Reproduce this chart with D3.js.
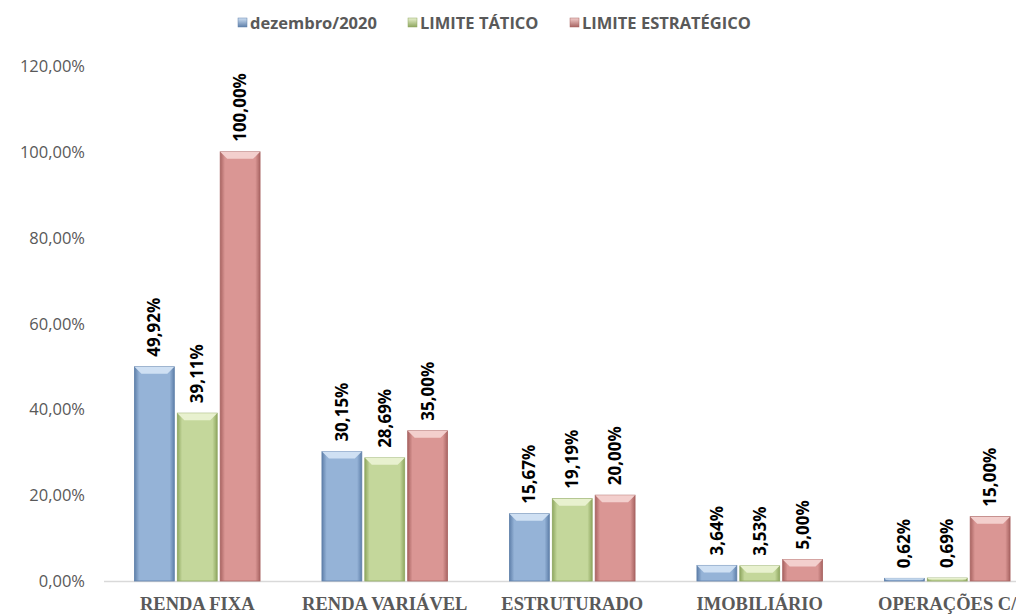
<!doctype html>
<html>
<head>
<meta charset="utf-8"/>
<style>
    html, body { margin: 0; padding: 0; background: #fff; }
    svg { display: block; }
    .tick-label { font-family: 'Open Sans', sans-serif; font-size: 16.5px; fill: #595959; }
    .cat-label { font-family: 'Liberation Serif', serif; font-weight: bold; font-size: 18.5px; fill: #595959; }
    .legend-label { font-family: 'Open Sans', sans-serif; font-weight: bold; font-size: 16.5px; fill: #595959; }
    .value-label { font-family: 'Open Sans', sans-serif; font-weight: bold; font-size: 17px; fill: #000; }
</style>
<script src="https://d3js.org/d3.v7.min.js"></script>
</head>
<body>
<svg width="1016" height="614"></svg>
<script>
    // --- data ---
    var categories = ["RENDA FIXA", "RENDA VARIÁVEL", "ESTRUTURADO", "IMOBILIÁRIO", "OPERAÇÕES C/"];
    var seriesNames = ["dezembro/2020", "LIMITE TÁTICO", "LIMITE ESTRATÉGICO"];
    var dezembro = [49.92, 30.15, 15.67, 3.64, 0.62];
    var limiteTatico = [39.11, 28.69, 19.19, 3.53, 0.69];
    var limiteEstrategico = [100.00, 35.00, 20.00, 5.00, 15.00];
    var yTicks = [0, 20, 40, 60, 80, 100, 120];

    var seriesValues = [dezembro, limiteTatico, limiteEstrategico];
    var fills = ["#95b3d7", "#c4d79b", "#da9694"];
    var lights = ["#cfe0f3", "#e8f1cf", "#f3cfcd"];
    var darks = ["#5f80aa", "#8fa760", "#a86462"];

    var svg = d3.select("svg");
    var defs = svg.append("defs");

    var x = d3.scaleBand().domain(categories).range([103.5, 1041])
        .paddingInner(0.33).paddingOuter(0.165);
    var xs = d3.scaleBand().domain(d3.range(3)).range([0, x.bandwidth()])
        .paddingInner(0.07).paddingOuter(0);
    var y = d3.scaleLinear().domain([0, 120]).range([581, 66]);

    function fmt(v) { return v.toFixed(2).replace(".", ",") + "%"; }

    // gradients for bar sides
    fills.forEach(function(c, i) {
        var g = defs.append("linearGradient").attr("id", "grad" + i)
            .attr("x1", 0).attr("x2", 1).attr("y1", 0).attr("y2", 0);
        g.append("stop").attr("offset", "0%").attr("stop-color", darks[i]);
        g.append("stop").attr("offset", "12%").attr("stop-color", c);
        g.append("stop").attr("offset", "88%").attr("stop-color", c);
        g.append("stop").attr("offset", "100%").attr("stop-color", darks[i]);
        var lg = defs.append("linearGradient").attr("id", "leg" + i)
            .attr("x1", 0).attr("x2", 0).attr("y1", 0).attr("y2", 1);
        lg.append("stop").attr("offset", "0%").attr("stop-color", lights[i]);
        lg.append("stop").attr("offset", "100%").attr("stop-color", darks[i]);
    });

    // y axis labels
    svg.append("g").selectAll("text").data(yTicks).enter().append("text")
        .attr("class", "tick-label")
        .attr("x", 85)
        .attr("y", function(d) { return y(d) + 6; })
        .attr("text-anchor", "end")
        .text(function(d) { return d.toFixed(2).replace(".", ",") + "%"; });

    // baseline
    svg.append("line").attr("x1", 104).attr("x2", 1016)
        .attr("y1", y(0) + 0.5).attr("y2", y(0) + 0.5)
        .attr("stroke", "#d9d9d9").attr("stroke-width", 1.5);

    // bars
    var groups = svg.append("g").selectAll("g").data(categories).enter().append("g")
        .attr("transform", function(d) { return "translate(" + x(d) + ",0)"; });

    groups.each(function(cat, ci) {
        var g = d3.select(this);
        seriesValues.forEach(function(vals, si) {
            var v = vals[ci];
            var bx = xs(si), bw = xs.bandwidth();
            var top = y(v), h = y(0) - top;
            var bev = Math.min(7, h / 2);
            g.append("rect").attr("x", bx).attr("y", top).attr("width", bw).attr("height", h)
                .attr("fill", "url(#grad" + si + ")")
                .attr("stroke", darks[si]).attr("stroke-width", 0.8);
            if (h > 2) {
                g.append("path")
                    .attr("d", "M" + bx + "," + top + "L" + (bx + bw) + "," + top +
                        "L" + (bx + bw - bev) + "," + (top + bev) + "L" + (bx + bev) + "," + (top + bev) + "Z")
                    .attr("fill", lights[si]);
            }
            var lx = bx + bw / 2 + 6, ly = top - 10;
            g.append("text").attr("class", "value-label")
                .attr("transform", "translate(" + lx + "," + ly + ") rotate(-90)")
                .attr("text-anchor", "start")
                .text(fmt(v));
        });
    });

    // category labels
    svg.append("g").selectAll("text").data(categories).enter().append("text")
        .attr("class", "cat-label")
        .attr("x", function(d) { return x(d) + x.bandwidth() / 2; })
        .attr("y", 610)
        .attr("text-anchor", "middle")
        .text(function(d) { return d; });

    // legend
    var legendX = [238, 408, 570];
    var leg = svg.append("g");
    seriesNames.forEach(function(n, i) {
        leg.append("rect").attr("x", legendX[i]).attr("y", 18).attr("width", 9).attr("height", 9)
            .attr("fill", "url(#leg" + i + ")").attr("stroke", darks[i]).attr("stroke-width", 0.5);
        leg.append("text").attr("class", "legend-label")
            .attr("x", legendX[i] + 12).attr("y", 29).text(n);
    });
</script>
</body>
</html>
